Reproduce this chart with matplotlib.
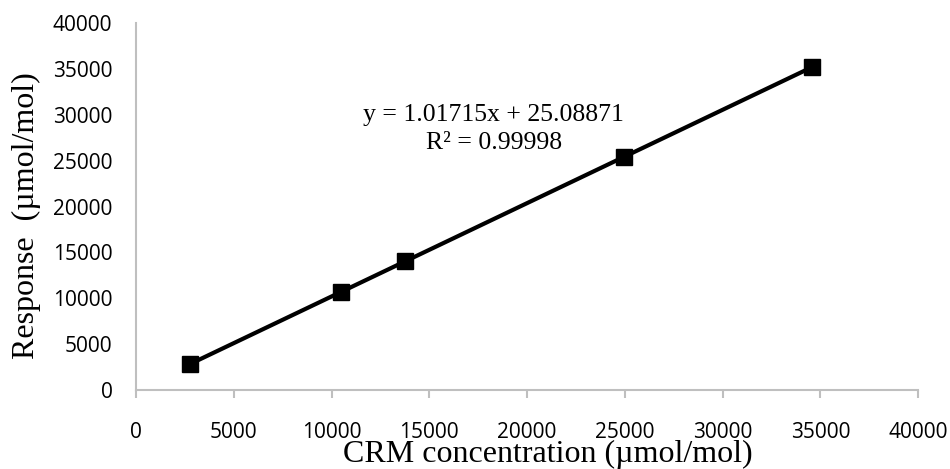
import matplotlib
matplotlib.use('Agg')
import matplotlib.pyplot as plt
import numpy as np

# --- DATA ---
crm_conc = [2750, 10500, 13750, 24950, 34550]
response = [2820, 10700, 14050, 25450, 35170]
x_ticks = list(range(0, 40001, 5000))
y_ticks = list(range(0, 40001, 5000))
slope = 1.01715
intercept = 25.08871
r2 = 0.99998

axis_grey = '#bfbfbf'
tick_family = ['Liberation Sans Narrow', 'Open Sans']
serif = 'Liberation Serif'

fig = plt.figure(figsize=(9.5, 4.69), dpi=100)
ax = fig.add_axes([0.1432, 0.1684, 0.8232, 0.7825])

# trendline over the data range
xs = np.array([min(crm_conc), max(crm_conc)])
ax.plot(xs, slope * xs + intercept, color='black', linewidth=3, zorder=2)
ax.plot(crm_conc, response, linestyle='none', marker='s', markersize=12,
        color='black', zorder=3)

ax.set_xlim(0, 40000)
ax.set_ylim(0, 40000)
ax.set_xticks(x_ticks)
ax.set_yticks(y_ticks)

for side in ['top', 'right']:
    ax.spines[side].set_visible(False)
for side in ['left', 'bottom']:
    ax.spines[side].set_color(axis_grey)
    ax.spines[side].set_linewidth(1.5)

ax.tick_params(axis='x', length=6, width=1.5, color=axis_grey, pad=17, labelsize=15)
ax.tick_params(axis='y', length=0, pad=17, labelsize=15)
for lab in ax.get_xticklabels() + ax.get_yticklabels():
    lab.set_fontfamily(tick_family)

ax.set_xlabel('CRM concentration (µmol/mol)', fontfamily=serif, fontsize=23)
ax.xaxis.set_label_coords(0.527, -0.135)
ax.set_ylabel('Response  (µmol/mol)', fontfamily=serif, fontsize=23)
ax.yaxis.set_label_coords(-0.122, 0.475)

ax.text(18300, 28450, f'y = {slope}x + {intercept}\nR² = {r2}',
        ha='center', va='center', fontfamily=serif, fontsize=18.5,
        linespacing=1.3)

plt.savefig('out.png', dpi=100)
plt.close()
